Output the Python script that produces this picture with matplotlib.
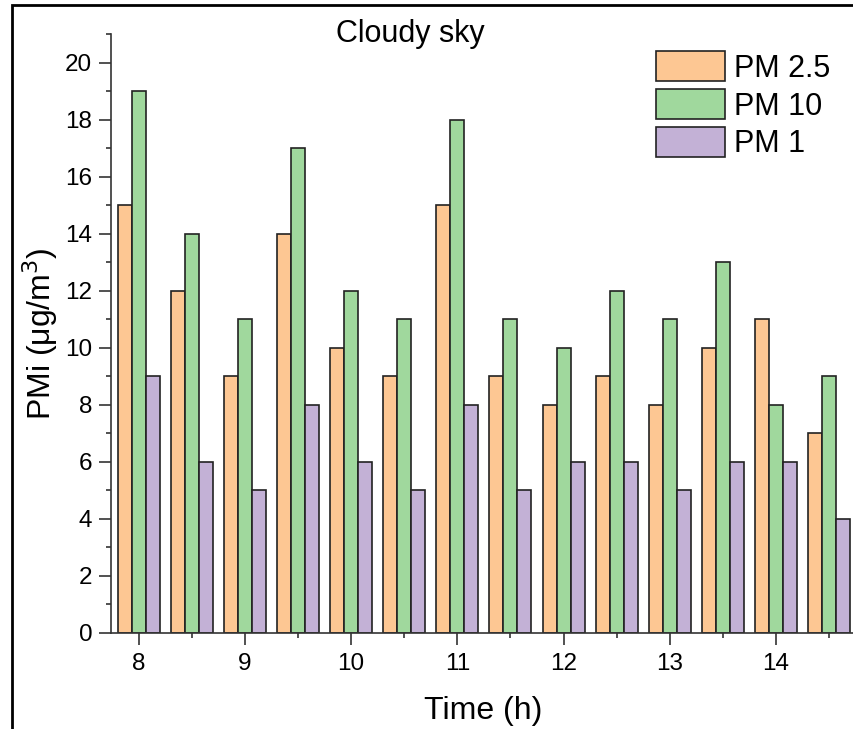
import matplotlib
matplotlib.use("Agg")
import matplotlib.pyplot as plt
from matplotlib.patches import Rectangle
from matplotlib.ticker import MultipleLocator
import numpy as np

plt.rcParams['font.family'] = ['Liberation Sans', 'DejaVu Sans']

# Half-hourly readings
times = [8, 8.5, 9, 9.5, 10, 10.5, 11, 11.5, 12, 12.5, 13, 13.5, 14, 14.5]
pm25 = [15, 12, 9, 14, 10, 9, 15, 9, 8, 9, 8, 10, 11, 7]
pm10 = [19, 14, 11, 17, 12, 11, 18, 11, 10, 12, 11, 13, 8, 9]
pm1 = [9, 6, 5, 8, 6, 5, 8, 5, 6, 6, 5, 6, 6, 4]

series = [("PM 2.5", pm25, "#FDC793"), ("PM 10", pm10, "#A0D89D"), ("PM 1", pm1, "#C3B1D6")]

fig = plt.figure(figsize=(8.54, 7.29), dpi=100)
ax = fig.add_axes([0.130, 0.1317, 0.872, 0.8216])

w = 0.132
x = np.array(times)
for i, (name, vals, col) in enumerate(series):
    ax.bar(x + (i - 1) * w, vals, width=w, color=col, edgecolor="#222222",
           linewidth=1.2, label=name, zorder=2)

ax.set_xlim(7.74, 14.75)
ax.set_ylim(0, 21)
ax.xaxis.set_major_locator(MultipleLocator(1))
ax.xaxis.set_minor_locator(MultipleLocator(0.5))
ax.yaxis.set_major_locator(MultipleLocator(2))
ax.yaxis.set_minor_locator(MultipleLocator(1))

for s in ["top", "right"]:
    ax.spines[s].set_visible(False)
for s in ["left", "bottom"]:
    ax.spines[s].set_color("#333333")
    ax.spines[s].set_linewidth(1.2)

ax.tick_params(which="major", length=8.5, width=1.2, color="#333333", labelsize=17.5, pad=5)
ax.tick_params(which="minor", length=3.8, width=1.2, color="#333333")
ax.tick_params(axis="x", which="major", pad=6)

ax.set_xlabel("Time (h)", fontsize=23, labelpad=15)
ax.set_ylabel("PMi (μg/m$^3$)", fontsize=23, labelpad=4)
ax.text(10.56, 21.0, "Cloudy sky", fontsize=22, ha="center", va="center")

ax.legend(loc="upper right", bbox_to_anchor=(0.99, 1.002), frameon=False, fontsize=22,
          handlelength=2.25, handleheight=1.14, labelspacing=0.18, handletextpad=0.3,
          borderaxespad=0.2)

# outer frame
fig.patches.append(Rectangle((12 / 854, -0.1), 1.2, 1 - 5 / 729 + 0.1, transform=fig.transFigure,
                             fill=False, edgecolor="black", linewidth=2.0))

fig.savefig("out.png", dpi=100)
